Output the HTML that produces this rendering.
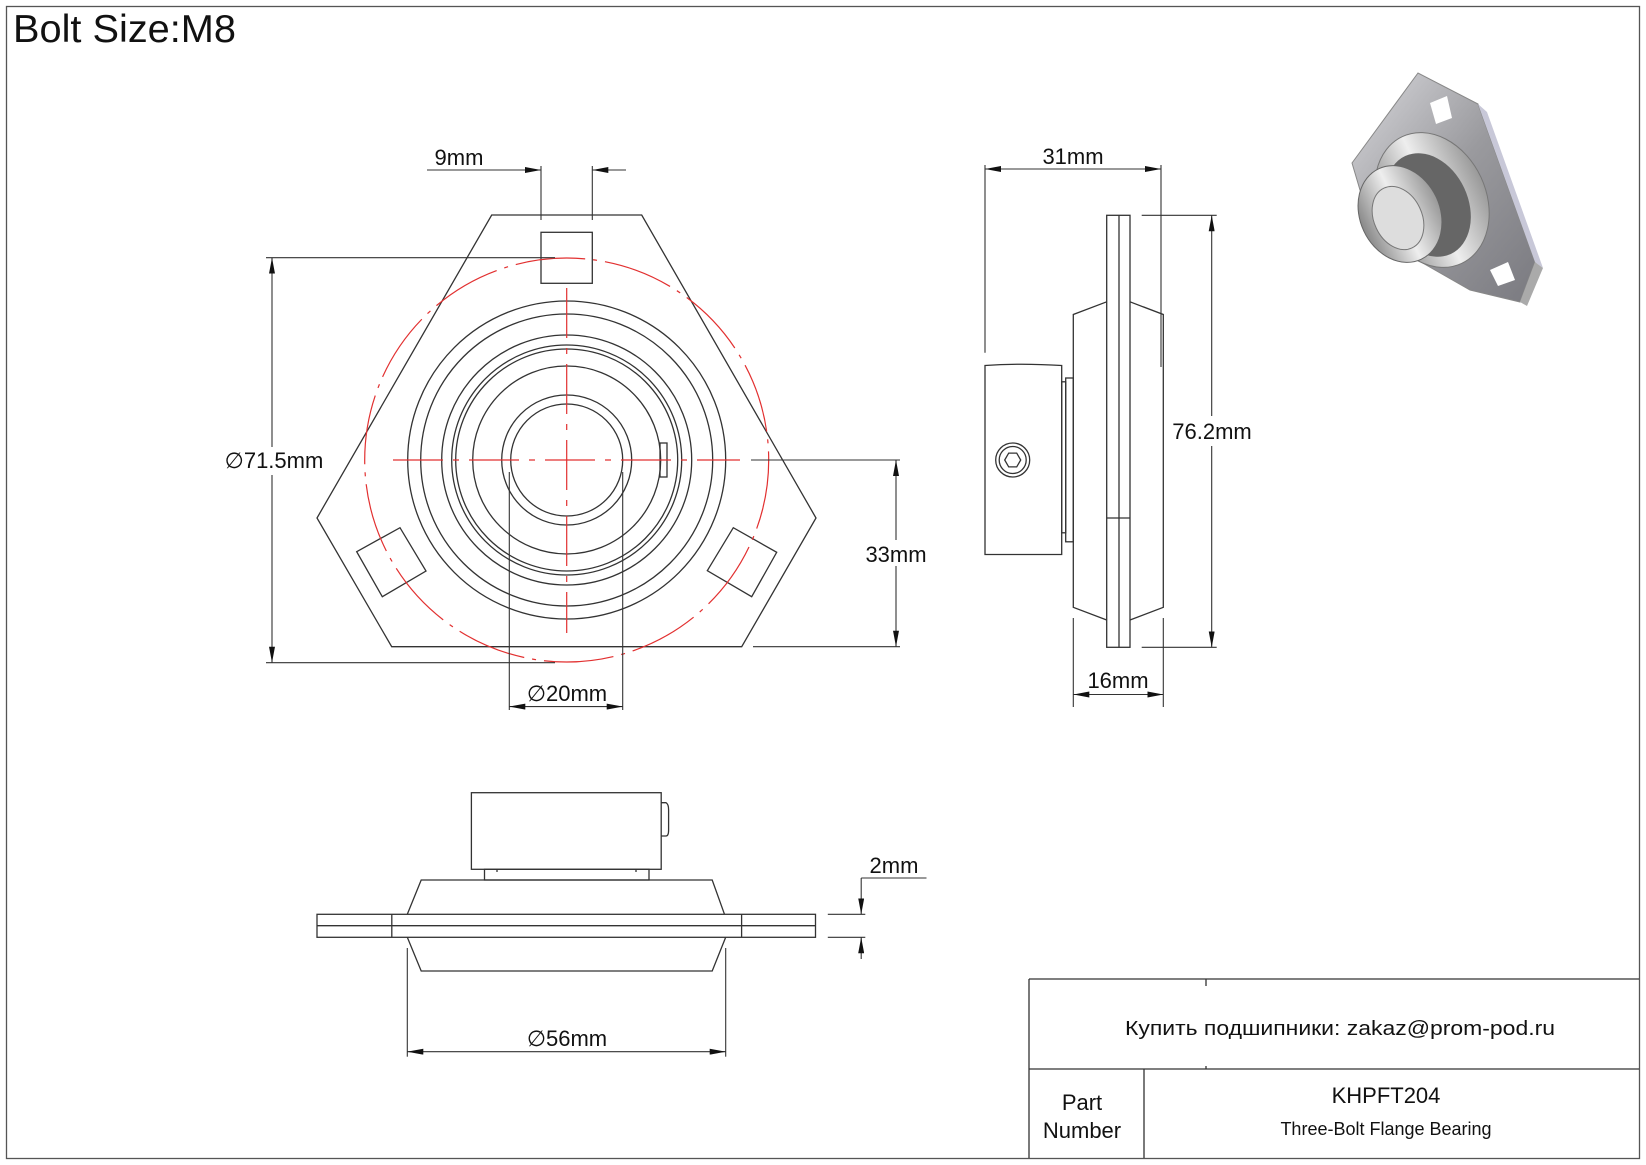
<!DOCTYPE html>
<html><head><meta charset="utf-8"><style>
html,body{margin:0;padding:0;background:#fff}
svg{display:block}
text{font-family:"Liberation Sans","DejaVu Sans",sans-serif;fill:#111}
</style></head><body>
<svg width="1646" height="1165" viewBox="0 0 1646 1165" xmlns="http://www.w3.org/2000/svg">
<defs>
<marker id="a" viewBox="0 0 16 6" refX="16" refY="3" markerWidth="16" markerHeight="6" markerUnits="userSpaceOnUse" orient="auto-start-reverse">
<path d="M0,0 L16,3 L0,6 z" fill="#111"/></marker>
<linearGradient id="g1" x1="0" y1="0" x2="1" y2="1"><stop offset="0" stop-color="#d8d8dc"/><stop offset="0.5" stop-color="#9a9a9e"/><stop offset="1" stop-color="#7a7a80"/></linearGradient>
<linearGradient id="g2" x1="0" y1="0" x2="1" y2="0"><stop offset="0" stop-color="#888"/><stop offset="0.5" stop-color="#eee"/><stop offset="1" stop-color="#999"/></linearGradient>
</defs>
<rect x="6.5" y="6.5" width="1633" height="1152" fill="none" stroke="#555" stroke-width="1.3"/>
<text x="13" y="42" font-size="39" textLength="223" lengthAdjust="spacingAndGlyphs">Bolt Size:M8</text>

<g fill="none" stroke="#333" stroke-width="1.3">
<polygon points="491.7,215 641.7,215 816,518 741.7,646.7 391.7,646.7 317,518"/>
<rect x="541" y="232.3" width="51.3" height="51"/>
<polygon points="356.7,551.7 400,527.7 426,571 382.3,596.7"/>
<polygon points="707.3,570.7 733.3,527.7 776.7,552.3 751.7,596.7"/>
<circle cx="566.7" cy="460" r="159"/>
<circle cx="566.7" cy="460" r="146"/>
<circle cx="566.7" cy="460" r="125"/>
<circle cx="566.7" cy="460" r="115"/>
<circle cx="566.7" cy="460" r="111"/>
<circle cx="566.7" cy="460" r="94"/>
<circle cx="566.7" cy="460" r="65"/>
<circle cx="566.7" cy="460" r="56"/>
<rect x="660" y="443" width="7" height="34"/>
</g>
<g fill="none" stroke="#e23030" stroke-width="1.2">
<circle cx="566.7" cy="460" r="202" stroke-dasharray="70,8,4,8"/>
<line x1="393" y1="460" x2="740" y2="460" stroke-dasharray="50,10,6,10"/>
<line x1="566.7" y1="288" x2="566.7" y2="633" stroke-dasharray="50,10,6,10"/>
</g>
<g fill="none" stroke="#333" stroke-width="1.1">
<line x1="541" y1="166" x2="541" y2="220"/><line x1="592.3" y1="166" x2="592.3" y2="220"/>
<line x1="427" y1="170" x2="541" y2="170" marker-end="url(#a)"/>
<line x1="626" y1="170" x2="592.3" y2="170" marker-end="url(#a)"/>
<line x1="266" y1="257.7" x2="555" y2="257.7"/><line x1="266" y1="662.7" x2="555" y2="662.7"/>
<line x1="272" y1="257.7" x2="272" y2="447" marker-start="url(#a)"/>
<line x1="272" y1="475" x2="272" y2="662.7" marker-end="url(#a)"/>
<line x1="751" y1="460" x2="900" y2="460"/><line x1="753" y1="646.7" x2="900" y2="646.7"/>
<line x1="896" y1="460" x2="896" y2="540" marker-start="url(#a)"/>
<line x1="896" y1="566" x2="896" y2="646.7" marker-end="url(#a)"/>
<line x1="509.3" y1="472" x2="509.3" y2="710"/><line x1="622.7" y1="472" x2="622.7" y2="710"/>
<line x1="509.3" y1="706.6" x2="622.7" y2="706.6" marker-start="url(#a)" marker-end="url(#a)"/>
</g>
<text x="459" y="165" font-size="22" text-anchor="middle">9mm</text>
<text x="274" y="468" font-size="22" text-anchor="middle">∅71.5mm</text>
<text x="896" y="562" font-size="22" text-anchor="middle">33mm</text>
<text x="567" y="701" font-size="22" text-anchor="middle">∅20mm</text>

<g fill="none" stroke="#333" stroke-width="1.3">
<rect x="1106.7" y="215.3" width="23.3" height="432"/>
<line x1="1119" y1="215.3" x2="1119" y2="647.3"/>
<line x1="1106.7" y1="518" x2="1130" y2="518"/>
<polyline points="1106.7,301.8 1073.3,314.5 1073.3,607.3 1106.7,620"/>
<polyline points="1130,301.8 1163.3,314.5 1163.3,607.3 1130,620"/>
<path d="M985,365.5 Q1020,363 1061.7,365.5 L1061.7,554.5 L985,554.5 Z"/>
<rect x="1061.7" y="381.8" width="4" height="151"/>
<rect x="1065.7" y="378" width="7.6" height="163.8"/>
<circle cx="1012.7" cy="460" r="17"/>
<circle cx="1012.7" cy="460" r="13.5"/>
<polygon points="1020.7,460 1016.7,466.9 1008.7,466.9 1004.7,460 1008.7,453.1 1016.7,453.1"/>
</g>
<g fill="none" stroke="#333" stroke-width="1.1">
<line x1="985" y1="165" x2="985" y2="352.7"/><line x1="1161" y1="165" x2="1161" y2="367"/>
<line x1="985" y1="169" x2="1161" y2="169" marker-start="url(#a)" marker-end="url(#a)"/>
<line x1="1141.7" y1="215.3" x2="1216.7" y2="215.3"/><line x1="1141.7" y1="647.3" x2="1216.7" y2="647.3"/>
<line x1="1211.7" y1="215.3" x2="1211.7" y2="416" marker-start="url(#a)"/>
<line x1="1211.7" y1="446" x2="1211.7" y2="647.3" marker-end="url(#a)"/>
<line x1="1073.3" y1="618" x2="1073.3" y2="707"/><line x1="1163.3" y1="618" x2="1163.3" y2="707"/>
<line x1="1073.3" y1="694.5" x2="1163.3" y2="694.5" marker-start="url(#a)" marker-end="url(#a)"/>
</g>
<text x="1073" y="164" font-size="22" text-anchor="middle">31mm</text>
<text x="1212" y="439" font-size="22" text-anchor="middle">76.2mm</text>
<text x="1118" y="688" font-size="22" text-anchor="middle">16mm</text>

<g fill="none" stroke="#333" stroke-width="1.3">
<rect x="471.4" y="792.7" width="189.8" height="76.6"/>
<path d="M661.2,802.7 L666,802.7 Q668.6,804 668.6,810 L668.6,830 Q668.6,836 666,836 L661.2,836"/>
<rect x="484.5" y="869.3" width="164.5" height="10.7"/>
<line x1="497" y1="869.3" x2="497" y2="872"/><line x1="636" y1="869.3" x2="636" y2="872"/>
<polyline points="407.3,914.3 421.2,880 712.2,880 724.5,914.3"/>
<rect x="317" y="914.3" width="498.5" height="23"/>
<line x1="317" y1="925.7" x2="815.5" y2="925.7"/>
<line x1="391.8" y1="914.3" x2="391.8" y2="937.3"/><line x1="741.6" y1="914.3" x2="741.6" y2="937.3"/>
<polyline points="407.3,937.3 421.2,971 712.2,971 725.7,937.3"/>
</g>
<g fill="none" stroke="#333" stroke-width="1.1">
<line x1="407.3" y1="948" x2="407.3" y2="1056.7"/><line x1="725.7" y1="948" x2="725.7" y2="1056.7"/>
<line x1="407.3" y1="1051.7" x2="725.7" y2="1051.7" marker-start="url(#a)" marker-end="url(#a)"/>
<line x1="827.8" y1="914.3" x2="865.3" y2="914.3"/><line x1="827.8" y1="937.3" x2="865.3" y2="937.3"/>
<line x1="861.2" y1="878" x2="926.5" y2="878"/>
<line x1="861.2" y1="878" x2="861.2" y2="914.3" marker-end="url(#a)"/>
<line x1="861.2" y1="959" x2="861.2" y2="937.3" marker-end="url(#a)"/>
</g>
<text x="567" y="1046" font-size="22" text-anchor="middle">∅56mm</text>
<text x="894" y="873" font-size="22" text-anchor="middle">2mm</text>

<g>
<polygon points="1352,163 1418,73 1478,104 1535,262 1520,302 1470,290 1400,250 1360,190" fill="url(#g1)" stroke="#888" stroke-width="1"/>
<polygon points="1478,104 1487,112 1543,268 1535,262" fill="#c8c8d8"/>
<polygon points="1535,262 1543,268 1527,306 1520,302" fill="#aaa"/>
<polygon points="1430,103 1447,96 1452,118 1436,124" fill="#fff"/>
<polygon points="1490,270 1508,262 1515,280 1498,286" fill="#fff"/>
<ellipse cx="1432" cy="200" rx="54" ry="70" transform="rotate(-25 1432 200)" fill="url(#g2)" stroke="#777"/>
<ellipse cx="1428" cy="205" rx="40" ry="54" transform="rotate(-25 1428 205)" fill="#666"/>
<ellipse cx="1400" cy="214" rx="40" ry="50" transform="rotate(-25 1400 214)" fill="url(#g2)" stroke="#666"/>
<ellipse cx="1398" cy="218" rx="24" ry="33" transform="rotate(-25 1398 218)" fill="#ddd" stroke="#777"/>
</g>

<g fill="none" stroke="#333" stroke-width="1.3">
<line x1="1029" y1="979" x2="1639" y2="979"/>
<line x1="1029" y1="979" x2="1029" y2="1158"/>
<line x1="1029" y1="1069" x2="1639" y2="1069"/>
<line x1="1144" y1="1069" x2="1144" y2="1158"/>
<line x1="1206" y1="979" x2="1206" y2="986"/>
<line x1="1206" y1="1066" x2="1206" y2="1069"/>
</g>
<text x="1340" y="1035" font-size="20" text-anchor="middle" textLength="430" lengthAdjust="spacingAndGlyphs">Купить подшипники: zakaz@prom-pod.ru</text>
<text x="1082" y="1110" font-size="22" text-anchor="middle">Part</text>
<text x="1082" y="1138" font-size="22" text-anchor="middle">Number</text>
<text x="1386" y="1103" font-size="22" text-anchor="middle">KHPFT204</text>
<text x="1386" y="1135" font-size="18" text-anchor="middle">Three-Bolt Flange Bearing</text>
</svg>
</body></html>
